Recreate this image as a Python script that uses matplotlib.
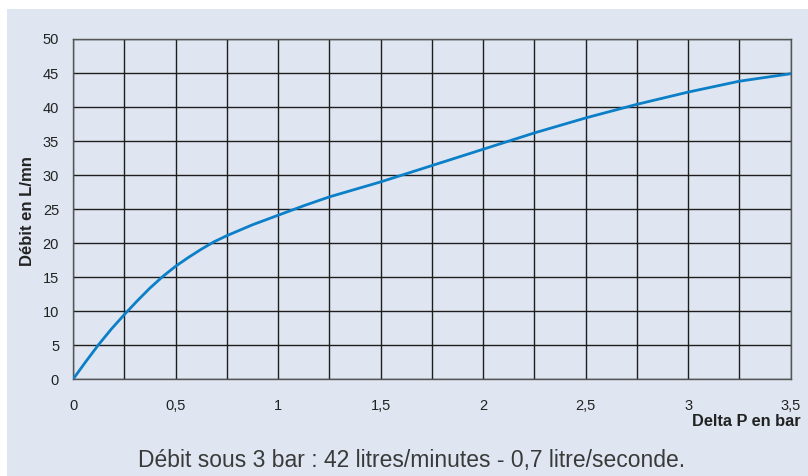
import matplotlib
matplotlib.use("Agg")
import matplotlib.pyplot as plt
from matplotlib.patches import Rectangle
import numpy as np

delta_p = [0, 0.0625, 0.125, 0.1875, 0.25, 0.3125, 0.375, 0.4375, 0.5, 0.5625,
           0.625, 0.6875, 0.75, 0.875, 1.0, 1.125, 1.25, 1.5, 1.75,
           2.0, 2.25, 2.5, 2.75, 3.0, 3.25, 3.5]
debit = [0, 2.6, 5.1, 7.4, 9.5, 11.5, 13.4, 15.1, 16.6, 17.9,
         19.1, 20.2, 21.1, 22.7, 24.1, 25.5, 26.8, 29.0, 31.4,
         33.8, 36.2, 38.4, 40.4, 42.2, 43.8, 44.9]

xticks = [0, 0.5, 1, 1.5, 2, 2.5, 3, 3.5]
xtick_labels = ["0", "0,5", "1", "1,5", "2", "2,5", "3", "3,5"]
yticks = [0, 5, 10, 15, 20, 25, 30, 35, 40, 45, 50]

plt.rcParams['font.family'] = ['Liberation Sans', 'DejaVu Sans']

W, H = 808, 476
fig = plt.figure(figsize=(W / 100, H / 100), dpi=100)
fig.patch.set_facecolor("white")
bg = "#dfe6f1"
fig.patches.append(Rectangle((7 / W, 0), 1 - 7 / W, 1 - 9 / H, transform=fig.transFigure,
                             facecolor=bg, edgecolor="none", zorder=-10))

ax = fig.add_axes([73 / W, (H - 379.3) / H, (790.7 - 73) / W, (379.3 - 39) / H])
ax.set_zorder(1)
ax.set_facecolor(bg)
ax.set_xlim(0, 3.5)
ax.set_ylim(0, 50)

ax.set_xticks(np.arange(0, 3.5001, 0.25), minor=True)
ax.set_xticks(xticks)
ax.set_xticklabels(xtick_labels)
ax.set_yticks(yticks)
ax.grid(True, which="both", color="#1e1e1e", linewidth=1.0)
ax.tick_params(axis="both", which="both", length=0, labelsize=10.5, colors="#222222")
ax.tick_params(axis="x", pad=14)
ax.tick_params(axis="y", pad=10)
for s in ax.spines.values():
    s.set_color("#555555")
    s.set_linewidth(1.0)
ax.set_axisbelow(True)

ax.plot(delta_p, debit, color="#0b7fc7", linewidth=2.0, solid_capstyle="round",
        solid_joinstyle="round", zorder=3)

fig.text(28 / W, 1 - 211 / H, "Débit en L/mn", rotation=90, ha="center", va="center",
         fontsize=12, fontweight="bold", color="#222222")
fig.text(801 / W, 1 - 421 / H, "Delta P en bar", ha="right", va="center",
         fontsize=11.8, fontweight="bold", color="#222222")
fig.text(412 / W, 1 - 461 / H, "Débit sous 3 bar : 42 litres/minutes - 0,7 litre/seconde.",
         ha="center", va="center", fontsize=16.5, color="#3a3a3a")

fig.savefig("out.png", dpi=100, facecolor=fig.get_facecolor())
